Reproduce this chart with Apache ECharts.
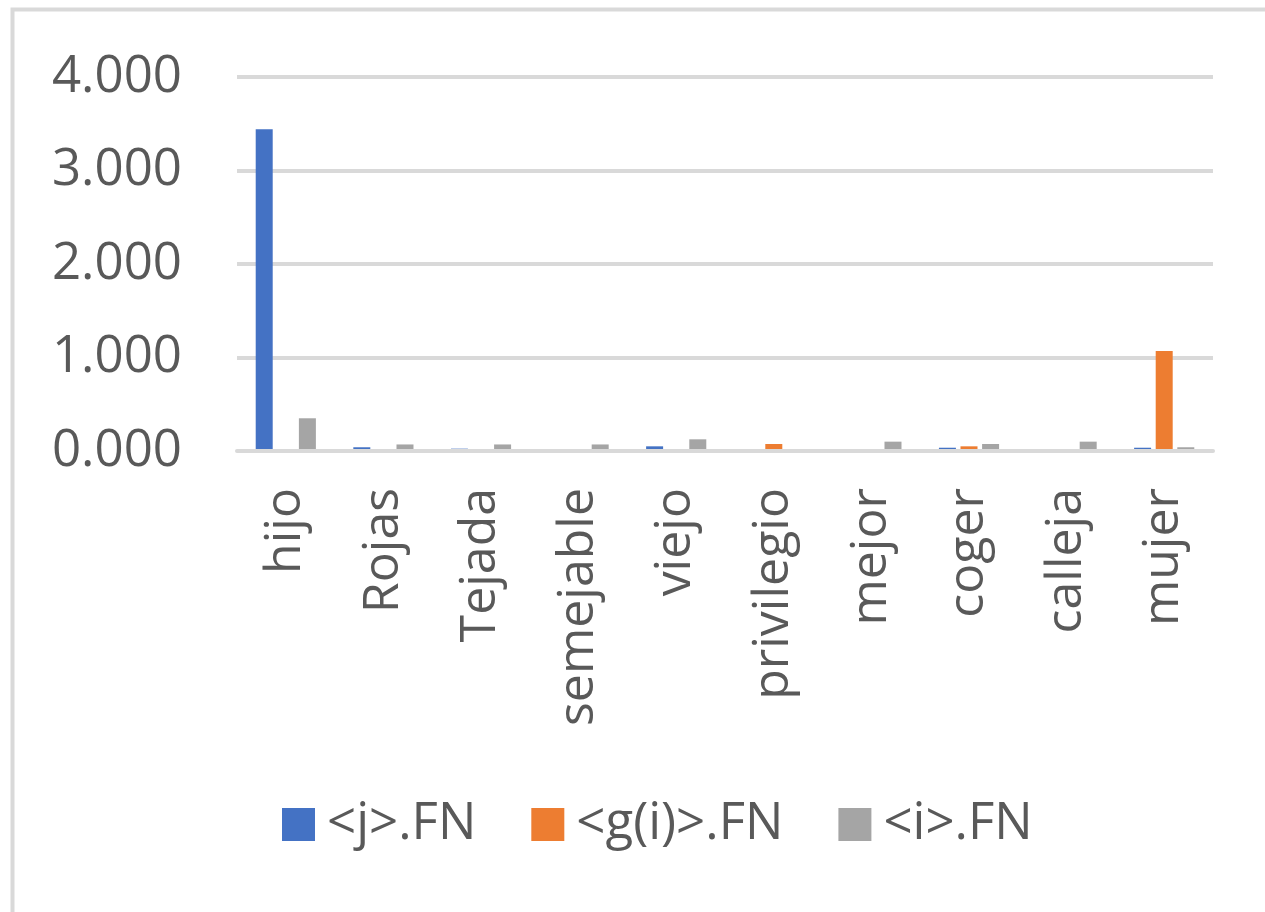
<!DOCTYPE html>
<html>
<head>
<meta charset="utf-8">
<script src="https://cdn.jsdelivr.net/npm/echarts@6/dist/echarts.min.js"></script>
<style>
  html, body { margin: 0; padding: 0; background: #fff; }
  #chart { width: 1265px; height: 912px; }
</style>
</head>
<body>
<div id="chart"></div>
<script>
// Word categories along the x axis
const categories = ['hijo', 'Rojas', 'Tejada', 'semejable', 'viejo', 'privilegio', 'mejor', 'coger', 'calleja', 'mujer'];

// Series names (legend)
const seriesNames = ['<j>.FN', '<g(i)>.FN', '<i>.FN'];

// Values per series, one per category
const jFN  = [3.44, 0.04, 0.025, 0, 0.05, 0, 0, 0.035, 0, 0.035];
const giFN = [0, 0, 0, 0, 0, 0.075, 0, 0.05, 0, 1.07];
const iFN  = [0.35, 0.07, 0.07, 0.07, 0.125, 0, 0.10, 0.075, 0.10, 0.04];

// Y axis ticks
const yMin = 0;
const yMax = 4;
const yStep = 1;

const colors = ['#4472C4', '#ED7D31', '#A5A5A5'];
const textColor = '#595959';
const lineColor = '#D9D9D9';
const font = 'Open Sans';

const chart = echarts.init(document.getElementById('chart'), null, { renderer: 'canvas' });

const seriesData = [jFN, giFN, iFN];

chart.setOption({
  animation: false,
  backgroundColor: '#ffffff',
  color: colors,
  graphic: [{
    type: 'rect',
    left: 10,
    top: 7,
    shape: { width: 1300, height: 960 },
    style: { fill: 'none', stroke: lineColor, lineWidth: 4 },
    silent: true
  }],
  grid: {
    left: 237,
    right: 52,
    top: 77,
    bottom: 461,
    containLabel: false
  },
  legend: {
    left: 282,
    top: 799,
    padding: 0,
    itemWidth: 33,
    itemHeight: 33,
    itemGap: 55,
    icon: 'rect',
    textStyle: {
      color: textColor,
      fontFamily: font,
      fontSize: 51,
      padding: [0, 0, 0, 7]
    },
    data: seriesNames
  },
  xAxis: {
    type: 'category',
    data: categories,
    z: 3,
    axisLine: { show: true, lineStyle: { color: lineColor, width: 4 } },
    axisTick: { show: false },
    axisLabel: {
      rotate: 90,
      margin: 37,
      color: textColor,
      fontFamily: font,
      fontSize: 50,
      interval: 0
    }
  },
  yAxis: {
    type: 'value',
    min: yMin,
    max: yMax,
    interval: yStep,
    axisLine: { show: false },
    axisTick: { show: false },
    splitLine: { lineStyle: { color: lineColor, width: 4 } },
    axisLabel: {
      margin: 55,
      color: textColor,
      fontFamily: font,
      fontSize: 51,
      formatter: v => v.toFixed(3)
    }
  },
  series: seriesNames.map((name, i) => ({
    name: name,
    type: 'bar',
    data: seriesData[i],
    barWidth: 17,
    barGap: '27%',
    itemStyle: { color: colors[i] }
  }))
});
</script>
</body>
</html>
